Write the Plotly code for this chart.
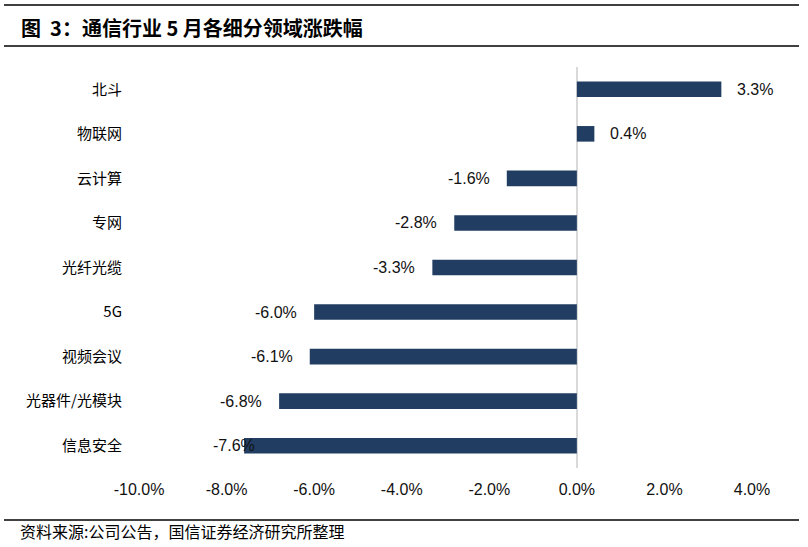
import plotly.graph_objects as go

categories = ["北斗", "物联网", "云计算", "专网", "光纤光缆", "5G", "视频会议", "光器件/光模块", "信息安全"]
values = [3.3, 0.4, -1.6, -2.8, -3.3, -6.0, -6.1, -6.8, -7.6]
x_ticks = [-10, -8, -6, -4, -2, 0, 2, 4]
title_text = "图  3：通信行业 5 月各细分领域涨跌幅"
source_text = "资料来源:公司公告，国信证券经济研究所整理"

# layout (pixels)
W, H = 808, 547
L, R, T, B = 139, 56, 67, 79
PW, PH = W - L - R, H - T - B


def px(x):
    return (x - L) / PW


def py(y):
    return (H - B - y) / PH


BAR = "#213e62"
NUM_FONT = dict(family="Liberation Sans, Arial", size=16, color="#111111")
CJK = "Noto Sans CJK SC"

fig = go.Figure()
fig.add_trace(go.Bar(
    x=values, y=categories, orientation="h",
    marker=dict(color=BAR, line=dict(width=0)),
    width=0.35, hoverinfo="skip",
))

# data labels
label_shift = {"信息安全": 28}  # label manually nudged in the original
annotations = []
for c, v in zip(categories, values):
    txt = f"{v:.1f}%"
    if v >= 0:
        annotations.append(dict(x=v, y=c, xref="x", yref="y", text=txt, showarrow=False,
                                xanchor="left", xshift=14, font=NUM_FONT))
    else:
        annotations.append(dict(x=v, y=c, xref="x", yref="y", text=txt, showarrow=False,
                                xanchor="right", xshift=-15 + label_shift.get(c, 0), font=NUM_FONT))

annotations.append(dict(x=px(19), y=py(27), xref="paper", yref="paper", text="<b>" + title_text + "</b>",
                        showarrow=False, xanchor="left", yanchor="middle",
                        font=dict(family=CJK, size=20, color="#000000")))
annotations.append(dict(x=px(18), y=py(531), xref="paper", yref="paper", text=source_text,
                        showarrow=False, xanchor="left", yanchor="middle",
                        font=dict(family=CJK, size=16, color="#000000")))

shapes = []
for yy in (5, 46, 520):
    shapes.append(dict(type="line", xref="paper", yref="paper", x0=px(4), x1=px(799), y0=py(yy), y1=py(yy),
                       line=dict(color="#000000", width=1.5)))

fig.update_layout(
    width=W, height=H,
    margin=dict(l=L, r=R, t=T, b=B, pad=0),
    paper_bgcolor="white", plot_bgcolor="white",
    showlegend=False,
    annotations=annotations, shapes=shapes,
    xaxis=dict(range=[-10, 4], tickvals=x_ticks, ticktext=[f"{t:.1f}%" for t in x_ticks],
               showgrid=False, zeroline=True, zerolinecolor="#d9d9d9", zerolinewidth=2,
               showline=False, ticks="", tickfont=NUM_FONT, ticklabelstandoff=10, fixedrange=True),
    yaxis=dict(autorange="reversed", showgrid=False, zeroline=False, showline=False, ticks="",
               tickfont=dict(family=CJK, size=15, color="#000000"), ticklabelstandoff=16, fixedrange=True),
)

fig.write_html("out.html", config={"displayModeBar": False})
